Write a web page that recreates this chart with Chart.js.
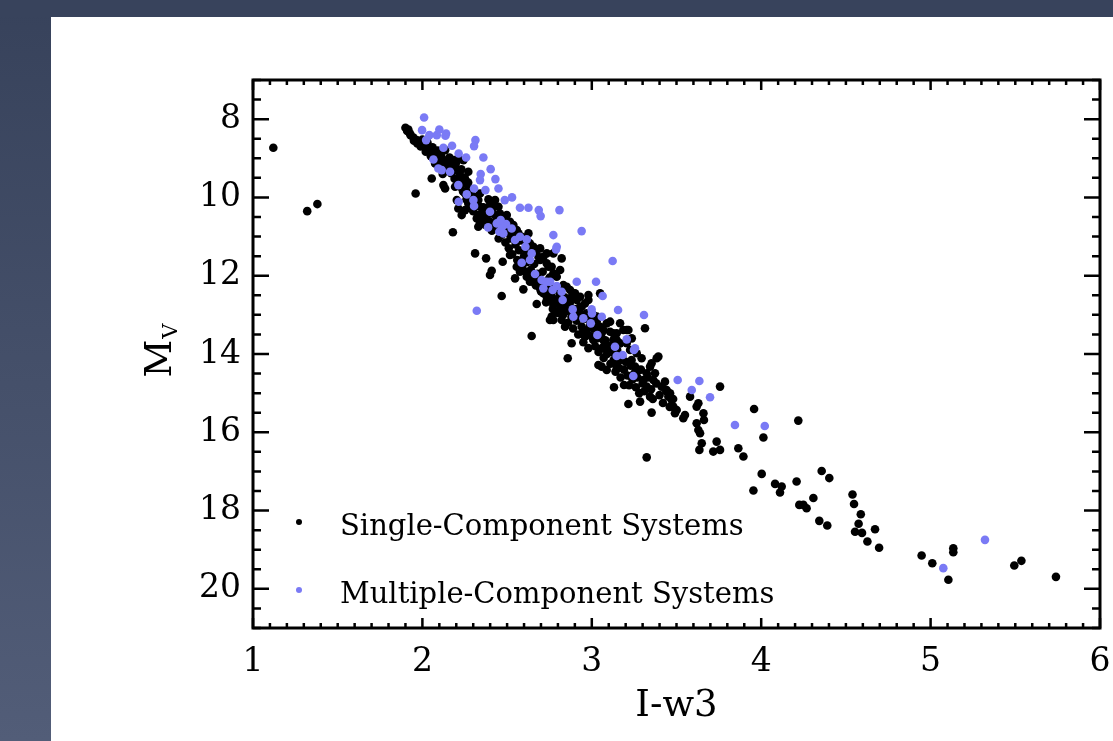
<!DOCTYPE html>
<html>
<head>
<meta charset="utf-8">
<script src="https://cdn.jsdelivr.net/npm/chart.js@4.4.0/dist/chart.umd.min.js"></script>
<style>
    html, body { margin: 0; padding: 0; background: #38435c; }
    #wrap { width: 1113px; height: 741px; }
</style>
</head>
<body>
<div id="wrap"><canvas id="myChart" width="1113" height="741"></canvas></div>
<script>
// axis setup
var xLabel = 'I-w3';
var yLabelMain = 'M';
var yLabelSub = 'V';
var xRange = [1, 6];
var yRange = [7, 21];
var xTickValues = [1, 2, 3, 4, 5, 6];
var yTickValues = [8, 10, 12, 14, 16, 18, 20];
var xMinorStep = 0.1;
var yMinorStep = 0.5;

var seriesNames = ['Single-Component Systems', 'Multiple-Component Systems'];
var seriesColors = ['#000000', '#7a7af5'];

// [I-w3, Mv] pairs, single-component systems
var singlePts = [
    [1.12, 8.73], [1.32, 10.35], [1.38, 10.17], [1.96, 9.90], [2.18, 10.89],
    [1.90, 8.22], [1.91, 8.30],
    [1.917, 8.264], [1.927, 8.366], [1.947, 8.468], [1.966, 8.536], [1.986, 8.579], [2.006, 8.664],
    [2.025, 8.749], [2.045, 8.834], [2.065, 8.962], [2.085, 8.877], [2.104, 9.004], [2.114, 9.175],
    [2.134, 9.302], [2.144, 9.132], [2.173, 9.047], [2.193, 9.175], [2.203, 9.302], [2.222, 9.430],
    [2.242, 9.643], [2.262, 9.600], [2.271, 9.770], [2.281, 9.898], [2.311, 9.983], [2.330, 10.068],
    [2.340, 10.238], [2.350, 10.409], [2.360, 10.579], [2.380, 10.324], [2.399, 10.196], [2.419, 10.238],
    [2.429, 10.068], [2.449, 10.238], [2.458, 10.409], [2.468, 10.494], [2.488, 10.579], [2.498, 10.451],
    [2.517, 10.621], [2.537, 10.706], [2.557, 10.834], [2.567, 10.919], [2.586, 11.004], [2.606, 11.132],
    [2.616, 11.345], [2.626, 10.919], [2.635, 11.175], [2.655, 11.260], [2.675, 11.345], [2.685, 11.515],
    [2.695, 11.600], [2.714, 11.515], [2.734, 11.685], [2.744, 11.770], [2.763, 11.770], [2.773, 11.941],
    [2.793, 12.026], [2.813, 11.855], [2.822, 11.558], [2.832, 12.238], [2.852, 12.281], [2.872, 12.366],
    [2.881, 12.536], [2.901, 12.451], [2.911, 12.621], [2.931, 12.536], [2.940, 12.792], [2.960, 12.706],
    [2.970, 12.962], [2.990, 13.047], [3.009, 13.004], [3.029, 13.175], [3.049, 13.302], [3.068, 13.387],
    [3.088, 13.217], [3.108, 13.430], [3.127, 13.643], [3.147, 13.472], [3.167, 13.728], [3.206, 13.387],
    [3.236, 13.600], [3.049, 12.451], [2.980, 12.494], [2.773, 11.430], [2.734, 11.430], [2.695, 11.302],
    [2.271, 9.345], [2.242, 9.047], [2.212, 9.004], [2.187, 9.047], [2.134, 8.792], [2.075, 9.132],
    [2.055, 9.515], [2.124, 9.685], [2.134, 9.770], [2.203, 10.068], [2.212, 10.281], [2.232, 10.451],
    [2.252, 10.324], [2.271, 10.153], [2.321, 10.536], [2.330, 10.749], [2.340, 10.664], [2.252, 9.898],
    [2.222, 9.728], [2.193, 9.728],
    [2.311, 11.43], [2.376, 11.557], [2.399, 11.982], [2.409, 11.872], [2.474, 11.642], [2.468, 12.518],
    [2.547, 12.067], [2.596, 12.348], [2.645, 13.54], [2.675, 12.723],
    [2.517, 11.472], [2.557, 11.770], [2.576, 11.897], [2.616, 12.025], [2.635, 12.153], [2.665, 12.195],
    [2.694, 12.323], [2.714, 12.450], [2.734, 12.535], [2.753, 12.621], [2.763, 13.046], [2.773, 13.131],
    [2.793, 12.706], [2.812, 12.876], [2.822, 13.131], [2.842, 13.301], [2.852, 12.791], [2.871, 12.621],
    [2.891, 12.450], [2.911, 12.535], [2.930, 12.791], [2.940, 13.046], [2.950, 13.387], [2.960, 13.557],
    [2.980, 12.621], [2.989, 13.301], [3.009, 13.642], [3.029, 13.046], [3.039, 13.344], [3.058, 13.472],
    [3.068, 13.642], [3.078, 13.727], [3.088, 13.897], [3.108, 13.174], [3.127, 13.472], [3.147, 13.642],
    [3.167, 13.216], [3.186, 13.387], [3.206, 13.727], [3.216, 13.387], [3.226, 13.897], [3.235, 14.153],
    [3.255, 14.323], [3.265, 13.982], [3.275, 14.408], [3.294, 14.110], [3.304, 14.663], [3.314, 13.344],
    [3.324, 14.493], [3.344, 14.323], [3.353, 14.238], [3.363, 14.663], [3.373, 14.493], [3.383, 14.110],
    [3.393, 14.067], [3.412, 14.833], [3.432, 14.706], [3.442, 14.918], [3.452, 15.089], [3.462, 15.004],
    [3.472, 15.174], [3.481, 15.344], [3.491, 15.514], [3.501, 15.429], [3.540, 15.642], [3.550, 15.557],
    [3.580, 15.089], [3.619, 15.344], [3.629, 15.259], [3.619, 15.770], [3.629, 15.940], [3.639, 16.025],
    [3.635, 16.450], [3.649, 16.280], [3.659, 15.514], [3.662, 15.684], [3.717, 16.493], [3.737, 16.238],
    [3.757, 16.450], [3.757, 14.833], [3.865, 16.408], [3.895, 16.620], [3.958, 15.404], [4.013, 16.135],
    [4.003, 17.063], [3.954, 17.489], [4.082, 17.318], [4.121, 17.386], [4.111, 17.540], [4.209, 17.259],
    [4.219, 15.702], [3.324, 14.833], [3.344, 15.089], [3.353, 15.497], [3.285, 15.216], [3.216, 15.276],
    [3.190, 14.791], [3.131, 14.850], [3.039, 14.280], [3.058, 14.323], [3.088, 14.408], [3.147, 14.323],
    [3.167, 14.153], [2.881, 13.727], [2.858, 14.110], [2.773, 12.748], [2.753, 13.131], [3.324, 16.64],
    [4.357, 16.99], [4.402, 17.17], [4.308, 17.68], [4.225, 17.855], [4.249, 17.855], [4.268, 17.94],
    [4.343, 18.263], [4.390, 18.382], [4.539, 17.59], [4.548, 17.834], [4.588, 18.093], [4.575, 18.335],
    [4.554, 18.54], [4.595, 18.57], [4.627, 18.791], [4.672, 18.476], [4.696, 18.95],
    [4.947, 19.148], [5.010, 19.344], [5.105, 19.769], [5.134, 18.961], [5.134, 19.063],
    [5.494, 19.403], [5.536, 19.284], [5.740, 19.693],
    // dense part of the sequence
    [1.93, 8.41], [1.95, 8.55], [1.97, 8.62], [1.99, 8.70], [2.00, 8.52], [2.02, 8.83], [2.03, 8.60],
    [2.05, 8.95], [2.06, 8.72], [2.08, 9.05], [2.09, 8.80], [2.11, 8.93], [2.12, 9.40], [2.13, 9.05],
    [2.15, 9.22], [2.16, 8.98], [2.17, 9.38], [2.18, 9.15], [2.19, 9.52], [2.20, 9.10],
    [2.21, 9.60], [2.23, 9.28], [2.24, 9.85], [2.25, 9.50], [2.26, 10.05], [2.27, 9.62], [2.28, 10.22],
    [2.29, 9.80], [2.30, 10.35], [2.31, 10.12], [2.32, 10.00], [2.33, 10.45], [2.34, 9.90], [2.35, 10.55],
    [2.36, 10.25], [2.37, 10.70], [2.38, 10.48], [2.39, 10.05], [2.40, 10.62], [2.41, 10.85], [2.42, 10.42],
    [2.43, 10.78], [2.44, 10.55], [2.45, 11.05], [2.46, 10.70],
    [2.47, 10.95], [2.48, 10.80], [2.49, 11.15], [2.50, 10.90], [2.51, 11.30], [2.52, 11.05], [2.53, 11.45],
    [2.54, 10.95], [2.55, 11.20], [2.56, 11.60], [2.57, 11.35], [2.58, 11.10], [2.59, 11.75], [2.60, 11.50],
    [2.61, 11.90], [2.62, 11.65], [2.63, 11.42], [2.64, 11.85], [2.65, 12.05], [2.66, 11.70], [2.67, 12.25],
    [2.68, 11.95], [2.69, 12.10], [2.70, 12.40], [2.71, 11.90], [2.72, 12.20], [2.73, 12.68], [2.74, 12.35],
    [2.75, 12.05], [2.76, 12.50], [2.77, 12.85], [2.78, 12.30], [2.79, 12.60], [2.80, 12.95],
    [2.81, 12.45], [2.82, 12.75], [2.83, 13.00], [2.84, 12.55], [2.85, 12.90], [2.86, 13.20], [2.87, 12.70],
    [2.88, 13.05], [2.89, 13.35], [2.90, 12.85], [2.91, 13.15], [2.92, 13.50], [2.93, 12.95], [2.94, 13.30],
    [2.95, 13.70], [2.96, 13.10], [2.97, 13.45], [2.98, 13.85], [2.99, 13.25], [3.00, 13.55], [3.01, 13.35],
    [3.02, 13.80], [3.03, 13.60], [3.04, 13.95], [3.05, 13.55], [3.06, 13.85], [3.07, 14.10], [3.08, 13.65],
    [3.09, 14.00], [3.10, 13.80], [3.11, 14.25], [3.12, 13.95], [3.13, 14.15], [3.14, 14.45], [3.15, 13.90],
    [3.16, 14.35], [3.17, 14.60], [3.18, 14.05], [3.19, 14.40], [3.20, 14.20],
    [3.21, 14.55], [3.22, 14.80], [3.23, 14.30], [3.24, 14.65], [3.25, 14.50], [3.26, 14.85], [3.27, 14.60],
    [3.28, 15.00], [3.29, 14.40], [3.30, 14.75], [3.31, 14.95], [3.33, 14.60], [3.35, 14.90], [3.36, 15.15],
    [3.38, 14.75], [3.40, 15.05], [3.42, 15.25], [3.44, 14.95], [3.46, 15.35], [3.48, 15.15]
];

// [I-w3, Mv] pairs, multiple-component systems
var multiPts = [
    [2.010, 7.958], [1.998, 8.281], [2.022, 8.536], [2.041, 8.409], [2.085, 8.409], [2.100, 8.264],
    [2.140, 8.366], [2.136, 8.426], [2.175, 8.681], [2.124, 8.732], [2.214, 8.877], [2.258, 8.979],
    [2.313, 8.536], [2.305, 8.689], [2.360, 8.979], [2.403, 9.277], [2.431, 9.532], [2.344, 9.404],
    [2.340, 9.557], [2.449, 9.770], [2.065, 9.030], [2.094, 9.260], [2.114, 9.302], [2.163, 9.345],
    [2.212, 9.685], [2.214, 10.111], [2.262, 9.923], [2.305, 9.770], [2.301, 10.068], [2.305, 10.221],
    [2.372, 9.813], [2.399, 10.366], [2.388, 10.766], [2.439, 10.664], [2.454, 10.877], [2.494, 10.681],
    [2.486, 10.068], [2.529, 9.999], [2.576, 10.264], [2.626, 10.264], [2.687, 10.324], [2.698, 10.477],
    [2.809, 10.324], [2.527, 10.792], [2.547, 11.089], [2.576, 11.004], [2.608, 11.260], [2.616, 11.072],
    [2.645, 11.430], [2.586, 11.668], [2.635, 11.600], [2.665, 11.957], [2.704, 12.111], [2.734, 12.153],
    [2.754, 12.153], [2.714, 12.323], [2.769, 12.366], [2.793, 12.264], [2.822, 12.408], [2.828, 12.621],
    [2.773, 10.962], [2.793, 11.260], [2.789, 11.328], [2.940, 10.860], [3.123, 11.626], [2.911, 12.153],
    [3.025, 12.153], [3.064, 12.519], [2.887, 12.860], [2.891, 13.047], [2.950, 13.089], [2.999, 12.860],
    [3.001, 12.962], [2.994, 13.217], [3.033, 13.515], [3.059, 13.047], [3.155, 12.877], [3.206, 13.626],
    [3.255, 13.855], [3.308, 13.004], [3.137, 13.813], [2.321, 12.894], [2.478, 10.919], [2.470, 10.749],
    [2.462, 10.579],
    [3.147, 14.050], [3.182, 14.025], [3.249, 13.897], [3.245, 14.561], [3.507, 14.663], [3.635, 14.689],
    [3.590, 14.918], [3.698, 15.106], [3.845, 15.812], [4.021, 15.838],
    [5.075, 19.471], [5.321, 18.748]
];

function toXY(list) {
    return list.map(function (p) { return { x: p[0], y: p[1] }; });
}

Chart.defaults.font.family = '"DejaVu Serif", serif';
Chart.defaults.color = '#000';

// slide background + white panel behind the plot
var slideBg = {
    id: 'slideBg',
    beforeDraw: function (chart) {
        var ctx = chart.ctx;
        ctx.save();
        var g = ctx.createLinearGradient(0, 0, 0, chart.height);
        g.addColorStop(0, '#37425b');
        g.addColorStop(1, '#525d78');
        ctx.fillStyle = g;
        ctx.fillRect(0, 0, chart.width, chart.height);
        ctx.fillStyle = '#38435c';
        ctx.fillRect(0, 0, chart.width, 17);
        ctx.fillStyle = '#ffffff';
        ctx.fillRect(51, 17, chart.width - 51, chart.height - 17);
        ctx.restore();
    }
};

// box + inward ticks on all four sides
var frameTicks = {
    id: 'frameTicks',
    afterDatasetsDraw: function (chart) {
        var ctx = chart.ctx;
        var a = chart.chartArea;
        var xs = chart.scales.x, ys = chart.scales.y;
        ctx.save();
        ctx.strokeStyle = '#000';
        ctx.lineWidth = 2.5;
        ctx.beginPath();
        var v, px, len;
        for (v = xRange[0]; v <= xRange[1] + 1e-9; v += xMinorStep) {
            var isMajor = Math.abs(v - Math.round(v)) < 1e-6;
            len = isMajor ? 10 : 5;
            px = xs.getPixelForValue(v);
            ctx.moveTo(px, a.bottom); ctx.lineTo(px, a.bottom - len);
            ctx.moveTo(px, a.top); ctx.lineTo(px, a.top + len);
        }
        for (v = yRange[0]; v <= yRange[1] + 1e-9; v += yMinorStep) {
            var major = yTickValues.indexOf(Math.round(v * 10) / 10) >= 0;
            len = major ? 16 : 8;
            px = ys.getPixelForValue(v);
            ctx.moveTo(a.left, px); ctx.lineTo(a.left + len, px);
            ctx.moveTo(a.right, px); ctx.lineTo(a.right - len, px);
        }
        ctx.stroke();
        ctx.lineWidth = 3;
        ctx.strokeRect(a.left, a.top, a.right - a.left, a.bottom - a.top);
        ctx.restore();
    }
};

// legend inside the plot and the M_V title with its subscript
var extras = {
    id: 'extras',
    afterDraw: function (chart) {
        var ctx = chart.ctx;
        ctx.save();
        var rows = [535, 603];
        chart.data.datasets.forEach(function (ds, i) {
            ctx.fillStyle = ds.backgroundColor;
            ctx.beginPath();
            ctx.arc(299, rows[i] - 13, 3, 0, Math.PI * 2);
            ctx.fill();
            ctx.fillStyle = '#000';
            ctx.font = '29px "DejaVu Serif"';
            ctx.textBaseline = 'alphabetic';
            ctx.fillText(ds.label, 340, rows[i]);
        });

        ctx.translate(158, 351);
        ctx.rotate(-Math.PI / 2);
        ctx.fillStyle = '#000';
        ctx.textBaseline = 'alphabetic';
        ctx.font = '37px "DejaVu Serif"';
        var w1 = ctx.measureText(yLabelMain).width;
        ctx.font = '21px "DejaVu Serif"';
        var w2 = ctx.measureText(yLabelSub).width;
        var start = -(w1 + w2) / 2;
        ctx.font = '37px "DejaVu Serif"';
        ctx.fillText(yLabelMain, start, 13);
        ctx.font = '21px "DejaVu Serif"';
        ctx.fillText(yLabelSub, start + w1 + 1, 19);
        ctx.restore();
    }
};

var ctx = document.getElementById('myChart').getContext('2d');
var myChart = new Chart(ctx, {
    type: 'scatter',
    data: {
        datasets: [{
            label: seriesNames[0],
            data: toXY(singlePts),
            backgroundColor: seriesColors[0],
            borderWidth: 0,
            pointRadius: 4.3,
            pointHoverRadius: 4.3,
            order: 2
        }, {
            label: seriesNames[1],
            data: toXY(multiPts),
            backgroundColor: seriesColors[1],
            borderWidth: 0,
            pointRadius: 4.3,
            pointHoverRadius: 4.3,
            order: 1
        }]
    },
    options: {
        responsive: false,
        animation: false,
        layout: { padding: { left: 0, top: 80, right: 13, bottom: 0 } },
        plugins: {
            legend: { display: false },
            tooltip: { enabled: false }
        },
        scales: {
            x: {
                type: 'linear',
                min: xRange[0],
                max: xRange[1],
                grid: { display: false, drawTicks: false },
                border: { display: false },
                ticks: { font: { size: 33 }, padding: 15, maxRotation: 0 },
                afterBuildTicks: function (scale) {
                    scale.ticks = xTickValues.map(function (v) { return { value: v }; });
                },
                afterFit: function (scale) {
                    scale.height = 113;
                    scale.paddingLeft = 0;
                    scale.paddingRight = 0;
                },
                title: {
                    display: true,
                    text: xLabel,
                    font: { size: 37 },
                    padding: { top: 0, bottom: 12 }
                }
            },
            y: {
                type: 'linear',
                reverse: true,
                min: yRange[0],
                max: yRange[1],
                grid: { display: false, drawTicks: false },
                border: { display: false },
                ticks: { font: { size: 33 }, padding: 12 },
                afterBuildTicks: function (scale) {
                    scale.ticks = yTickValues.map(function (v) { return { value: v }; });
                },
                afterFit: function (scale) {
                    scale.width = 253;
                    scale.paddingTop = 0;
                    scale.paddingBottom = 0;
                }
            }
        }
    },
    plugins: [slideBg, frameTicks, extras]
});
</script>
</body>
</html>
